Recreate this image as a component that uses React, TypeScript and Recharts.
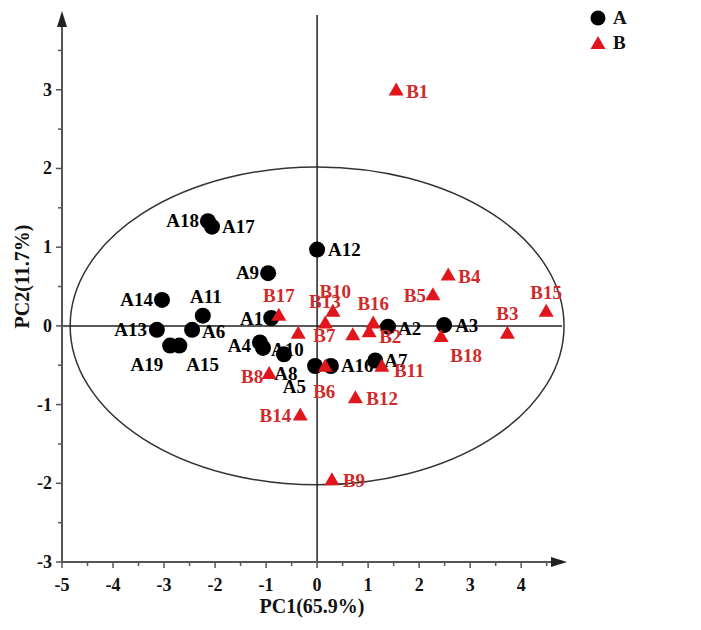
import React from 'react';
import {
  ScatterChart,
  Scatter,
  XAxis,
  YAxis,
  ReferenceLine,
  ReferenceArea,
  ReferenceDot,
  Legend,
  Label,
} from 'recharts';

// group A (black circles)
const aNames = ['A1', 'A2', 'A3', 'A4', 'A5', 'A6', 'A7', 'A8', 'A9', 'A10', 'A11', 'A12', 'A13', 'A14', 'A15', 'A16', 'A17', 'A18', 'A19'];
const aX = [-0.9, 1.39, 2.49, -1.12, -0.04, -2.45, 1.14, -0.65, -0.96, -1.06, -2.24, 0.0, -3.14, -3.04, -2.7, 0.27, -2.06, -2.14, -2.88];
const aY = [0.1, -0.01, 0.01, -0.21, -0.51, -0.05, -0.44, -0.36, 0.67, -0.28, 0.13, 0.97, -0.05, 0.33, -0.25, -0.51, 1.26, 1.33, -0.25];

// group B (red triangles); the last one has its label hidden under the others
const bNames = ['B1', 'B2', 'B3', 'B4', 'B5', 'B6', 'B7', 'B8', 'B9', 'B10', 'B11', 'B12', 'B13', 'B14', 'B15', 'B16', 'B17', 'B18', ''];
const bX = [1.55, 1.02, 3.73, 2.57, 2.27, 0.16, -0.37, -0.94, 0.29, 0.16, 1.27, 0.75, 0.31, -0.33, 4.49, 1.1, -0.75, 2.43, 0.7];
const bY = [2.99, -0.08, -0.1, 0.64, 0.39, -0.52, -0.1, -0.61, -1.96, 0.03, -0.52, -0.92, 0.18, -1.14, 0.18, 0.03, 0.13, -0.14, -0.12];

const xTicks = [-5, -4.5, -4, -3.5, -3, -2.5, -2, -1.5, -1, -0.5, 0, 0.5, 1, 1.5, 2, 2.5, 3, 3.5, 4, 4.5];
const yTicks = [-3, -2.5, -2, -1.5, -1, -0.5, 0, 0.5, 1, 1.5, 2, 2.5, 3, 3.5];

// 95% confidence ellipse extent
const ellipseX = [-4.84, 4.84];
const ellipseY = [-2.02, 2.02];

const seriesNames = ['A', 'B'];

const dataA = aNames.map((name, i) => ({ name, x: aX[i], y: aY[i] }));
const dataB = bNames.map((name, i) => ({ name, x: bX[i], y: bY[i] }));

const FONT = '"Liberation Serif", "Times New Roman", serif';
const RED = '#e0161c';
const RED_TEXT = '#d02a2a';
const AXIS = '#555';

// label placement: [dx, dy, anchor]
const labelPos: Record<string, [number, number, string]> = {
  A1: [-8, 1, 'end'], A2: [10, 2, 'start'], A3: [11, 1, 'start'], A4: [-9, 4, 'end'],
  A5: [-9, 21, 'end'], A6: [10, 2, 'start'], A7: [9, 0, 'start'], A8: [2, 20, 'middle'],
  A9: [-9, 0, 'end'], A10: [8, 2, 'start'], A11: [3, -19, 'middle'], A12: [11, 0, 'start'],
  A13: [-10, 0, 'end'], A14: [-9, 0, 'end'], A15: [7, 19, 'start'], A16: [10, 0, 'start'],
  A17: [10, 0, 'start'], A18: [-9, 0, 'end'], A19: [-7, 19, 'end'],
  B1: [10, 1, 'start'], B2: [10, 5, 'start'], B3: [0, -20, 'middle'], B4: [10, 1, 'start'],
  B5: [-7, 1, 'end'], B6: [-1, 25, 'middle'], B7: [15, 2, 'start'], B8: [-6, 3, 'end'],
  B9: [11, 1, 'start'], B10: [10, -32, 'middle'], B11: [12, 4, 'start'], B12: [11, 1, 'start'],
  B13: [-8, -10, 'middle'], B14: [-9, 0, 'end'], B15: [0, -19, 'middle'], B16: [0, -20, 'middle'],
  B17: [0, -20, 'middle'], B18: [25, 19, 'middle'],
};

const PointLabel = ({ cx, cy, name, color }: any) => {
  const pos = labelPos[name];
  if (!name || !pos) return null;
  return (
    <text
      x={cx + pos[0]}
      y={cy + pos[1]}
      dy={6}
      textAnchor={pos[2] as any}
      fill={color}
      fontFamily={FONT}
      fontWeight="bold"
      fontSize={19}
    >
      {name}
    </text>
  );
};

const CircleShape = (props: any) => {
  const { cx, cy, payload } = props;
  return (
    <g>
      <circle cx={cx} cy={cy} r={8} fill="#000" />
      <PointLabel cx={cx} cy={cy} name={payload?.name} color="#000" />
    </g>
  );
};

const TriangleShape = (props: any) => {
  const { cx, cy, payload } = props;
  return (
    <g>
      <polygon points={`${cx},${cy - 8} ${cx - 7.5},${cy + 5} ${cx + 7.5},${cy + 5}`} fill={RED} />
      <PointLabel cx={cx} cy={cy} name={payload?.name} color={RED_TEXT} />
    </g>
  );
};

const XTick = ({ x, y, payload }: any) => {
  const major = Number.isInteger(payload.value);
  const top = y - 8;
  return (
    <g>
      <line x1={x} x2={x} y1={top} y2={top + (major ? 6 : 4)} stroke={AXIS} strokeWidth={1.5} />
      {major && (
        <text x={x} y={y + 21} textAnchor="middle" fontFamily={FONT} fontWeight="bold" fontSize={18} fill="#111">
          {payload.value}
        </text>
      )}
    </g>
  );
};

const YTick = ({ x, y, payload }: any) => {
  const major = Number.isInteger(payload.value);
  const right = x + 8;
  return (
    <g>
      <line x1={right} x2={right - (major ? 6 : 4)} y1={y} y2={y} stroke={AXIS} strokeWidth={1.5} />
      {major && (
        <text x={x - 2} y={y + 6} textAnchor="end" fontFamily={FONT} fontWeight="bold" fontSize={18} fill="#111">
          {payload.value}
        </text>
      )}
    </g>
  );
};

const EllipseShape = ({ x, y, width, height }: any) => (
  <ellipse
    cx={x + width / 2}
    cy={y + height / 2}
    rx={Math.abs(width) / 2}
    ry={Math.abs(height) / 2}
    fill="none"
    stroke="#333"
    strokeWidth={1.5}
  />
);

const ArrowRight = ({ cx, cy }: any) => (
  <polygon points={`${cx + 5},${cy} ${cx - 11},${cy - 5} ${cx - 11},${cy + 5}`} fill="#222" />
);

const ArrowUp = ({ cx, cy }: any) => (
  <polygon points={`${cx},${cy - 4} ${cx - 5},${cy + 12} ${cx + 5},${cy + 12}`} fill="#222" />
);

const LegendBox = () => (
  <div style={{ fontFamily: FONT, fontWeight: 'bold', fontSize: 19, color: '#111' }}>
    {seriesNames.map((s) => (
      <div key={s} style={{ display: 'flex', alignItems: 'center', height: 25 }}>
        <svg width={18} height={18}>
          {s === 'A' ? (
            <circle cx={9} cy={9} r={7.5} fill="#000" />
          ) : (
            <polygon points="9,2 1.5,15 16.5,15" fill={RED} />
          )}
        </svg>
        <span style={{ marginLeft: 6 }}>{s}</span>
      </div>
    ))}
  </div>
);

const YTitle = ({ viewBox }: any) => {
  const cx = 14;
  const cy = viewBox.y + viewBox.height / 2 - 12;
  return (
    <text
      x={cx}
      y={cy}
      transform={`rotate(-90 ${cx} ${cy})`}
      textAnchor="middle"
      dominantBaseline="central"
      fontFamily={FONT}
      fontWeight="bold"
      fontSize={20}
      fill="#111"
    >
      PC2(11.7%)
    </text>
  );
};

export default function App() {
  return (
    <ScatterChart
      width={693}
      height={622}
      margin={{ top: 7, right: 139, bottom: 13, left: 10 }}
    >
      <XAxis
        type="number"
        dataKey="x"
        domain={[-5, 4.8]}
        ticks={xTicks}
        interval={0}
        allowDataOverflow
        tickSize={6}
        tickMargin={2}
        tickLine={false}
        tick={<XTick />}
        axisLine={{ stroke: AXIS, strokeWidth: 2 }}
        height={55}
      >
        <Label
          value="PC1(65.9%)"
          position="insideBottom"
          offset={4}
          style={{ fontFamily: FONT, fontWeight: 'bold', fontSize: 20, fill: '#111' }}
        />
      </XAxis>
      <YAxis
        type="number"
        dataKey="y"
        domain={[-3, 3.95]}
        ticks={yTicks}
        interval={0}
        allowDataOverflow
        tickSize={6}
        tickMargin={2}
        tickLine={false}
        tick={<YTick />}
        axisLine={{ stroke: AXIS, strokeWidth: 2 }}
        width={44}
      >
        <Label content={<YTitle />} />
      </YAxis>
      <ReferenceArea
        x1={ellipseX[0]}
        x2={ellipseX[1]}
        y1={ellipseY[0]}
        y2={ellipseY[1]}
        ifOverflow="visible"
        shape={<EllipseShape />}
      />
      <ReferenceLine x={0} stroke="#222" strokeWidth={1.5} />
      <ReferenceLine y={0} stroke="#222" strokeWidth={1.5} />
      <ReferenceDot x={4.8} y={-3} ifOverflow="visible" shape={<ArrowRight />} />
      <ReferenceDot x={-5} y={3.95} ifOverflow="visible" shape={<ArrowUp />} />
      <Legend
        layout="vertical"
        align="center"
        verticalAlign="middle"
        content={<LegendBox />}
        wrapperStyle={{ top: -3, left: 581, width: 60 }}
      />
      <Scatter name="A" data={dataA} shape={<CircleShape />} isAnimationActive={false} />
      <Scatter name="B" data={dataB} shape={<TriangleShape />} isAnimationActive={false} />
    </ScatterChart>
  );
}
